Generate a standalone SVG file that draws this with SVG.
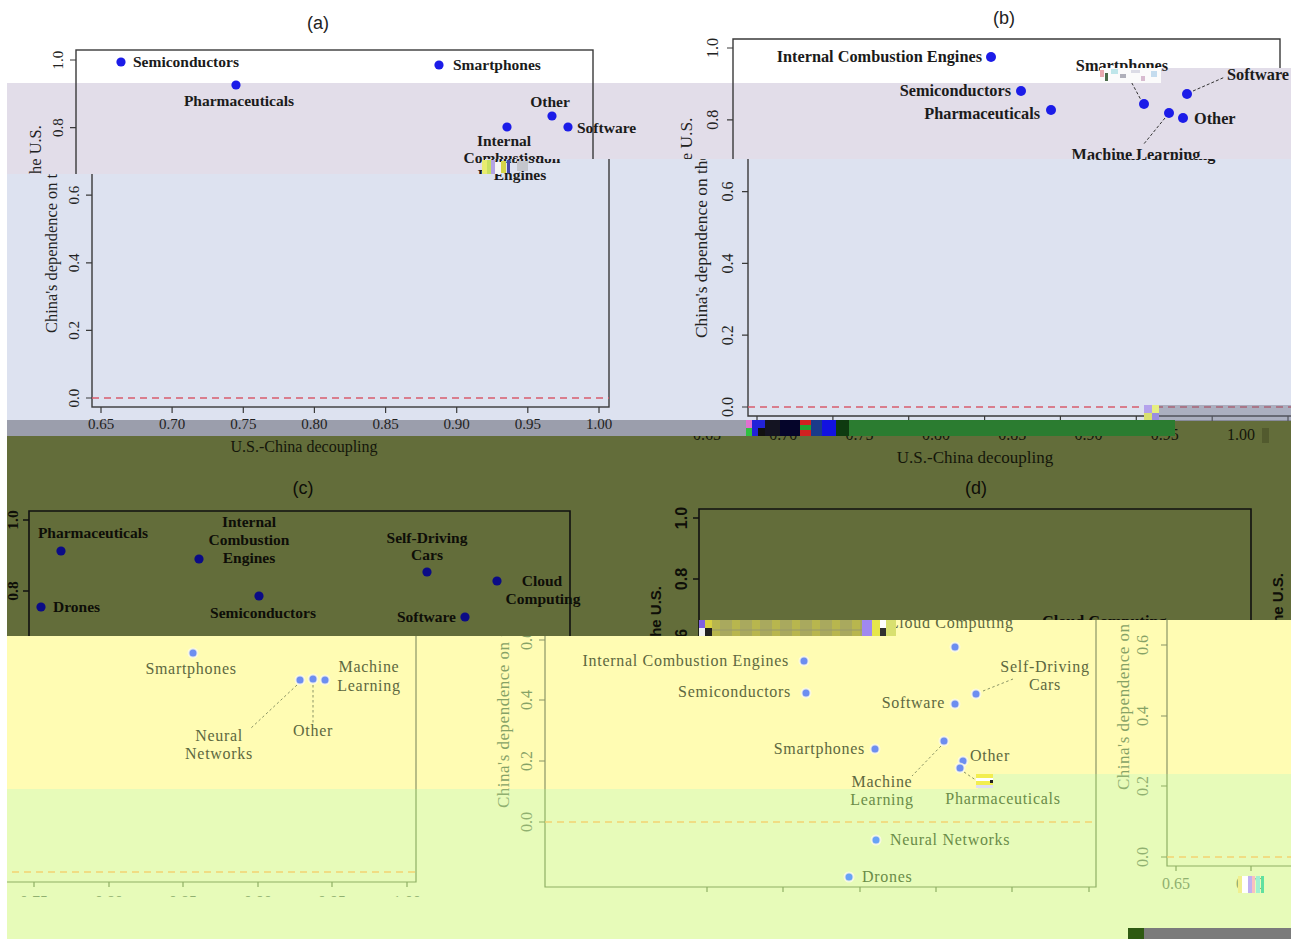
<svg xmlns="http://www.w3.org/2000/svg" width="1291" height="939" viewBox="0 0 1291 939">
<defs>
<style>
.ttl{font-family:"Liberation Sans",Arial,sans-serif;font-size:18px;fill:#222}
.la{font-family:"Liberation Serif","Times New Roman",serif;font-weight:bold;font-size:15.5px;fill:#1b1b1b}
.lb{font-family:"Liberation Serif","Times New Roman",serif;font-weight:bold;font-size:16.3px;fill:#1b1b1b}
.tka{font-family:"Liberation Serif","Times New Roman",serif;font-size:15px;fill:#222}
.tkb{font-family:"Liberation Serif","Times New Roman",serif;font-size:16px;fill:#222}
.axa{font-family:"Liberation Serif","Times New Roman",serif;font-size:16.4px;fill:#222}
.axb{font-family:"Liberation Serif","Times New Roman",serif;font-size:17.4px;fill:#222}
.rot{text-anchor:middle;dominant-baseline:central}
.mid{text-anchor:middle}
.end{text-anchor:end}
.fr{fill:none;stroke:#3a3a3a;stroke-width:1.4}
.tm{fill:none;stroke:#3a3a3a;stroke-width:1.2}
.dA{fill:#1c1ce8}
.red{fill:none;stroke:#d75c6c;stroke-width:1.6;stroke-dasharray:7 5}
.ldr{fill:none;stroke:#333;stroke-width:1;stroke-dasharray:3 2}
.oc{font-family:"Liberation Serif","Times New Roman",serif;font-weight:bold;font-size:15.5px;fill:#0e0e08}
.otk{font-family:"Liberation Serif","Times New Roman",serif;font-size:16px;fill:#14160a}
.osb{font-family:"Liberation Sans",Arial,sans-serif;font-weight:bold;font-size:15px;fill:#0e0e08}
.ottl{font-family:"Liberation Sans",Arial,sans-serif;font-size:18px;fill:#0e0e08}
.ofr{fill:none;stroke:#111;stroke-width:1.6}
.dC{fill:#0b0b86}
.yt{font-family:"Liberation Serif","Times New Roman",serif;font-size:16px;letter-spacing:0.7px;stroke:none}
.yk{font-family:"Liberation Serif","Times New Roman",serif;font-size:16px;stroke:none;fill:var(--ax,#8fa56c)}
.yax{font-family:"Liberation Serif","Times New Roman",serif;font-size:17px;letter-spacing:0.5px;stroke:none;fill:var(--ax,#8fa56c)}
.yfr{fill:none;stroke-width:1.2}
.yd{fill:currentColor;stroke:#fffde8;stroke-width:2;stroke-opacity:0.8}
.yzero{fill:none;stroke:#f3d472;stroke-width:1.6;stroke-dasharray:7 5}
.yld{fill:none;stroke-width:1;stroke-dasharray:2.5 2.5}
</style>
<clipPath id="cUp"><polygon points="0,0 1291,0 1291,159 485,159 485,174 0,174"/></clipPath>
<clipPath id="cLow"><polygon points="7,174 485,174 485,159 1291,159 1291,436 7,436"/></clipPath>
<clipPath id="cOl"><polygon points="7,436 1175,436 1175,421 1291,421 1291,620 896,620 896,636 7,636"/></clipPath>
<clipPath id="cYel"><polygon points="7,636 896,636 896,620 1291,620 1291,774 978,774 978,789 7,789"/></clipPath>
<clipPath id="cGrn"><polygon points="7,789 978,789 978,774 1291,774 1291,897 7,897"/></clipPath>
</defs>

<rect id="bg-white" width="1291" height="939" fill="#ffffff"/>
<polygon id="bg-lavender" points="7,83 1161,83 1161,68 1291,68 1291,159 485,159 485,174 7,174" fill="#e2dde9"/>
<polygon id="bg-blue" points="7,174 485,174 485,159 1291,159 1291,420 7,420" fill="#dde2f0"/>
<rect id="bg-grey" x="7" y="420" width="1284" height="16" fill="#9b9eac"/>

<g clip-path="url(#cUp)">
<g id="panel-a">
<text class="ttl mid" x="318" y="29">(a)</text>
<rect class="fr" x="76" y="50" width="517" height="357"/>
<path class="tm" d="M70 60H76M70 127.6H76M70 195.2H76M70 262.8H76M70 330.4H76M70 398H76M85 407V413M156.1 407V413M227.3 407V413M298.4 407V413M369.6 407V413M440.7 407V413M511.8 407V413M583 407V413"/>
<text class="tka rot" transform="translate(58 60) rotate(-90)">1.0</text>
<text class="tka rot" transform="translate(58 127.6) rotate(-90)">0.8</text>
<text class="tka rot" transform="translate(58 195.2) rotate(-90)">0.6</text>
<text class="tka rot" transform="translate(58 262.8) rotate(-90)">0.4</text>
<text class="tka rot" transform="translate(58 330.4) rotate(-90)">0.2</text>
<text class="tka rot" transform="translate(58 398) rotate(-90)">0.0</text>
<text class="axa" transform="translate(35 333) rotate(-90)" dominant-baseline="central">China's dependence on the U.S.</text>
<text class="tka mid" x="85" y="429">0.65</text>
<text class="tka mid" x="156.1" y="429">0.70</text>
<text class="tka mid" x="227.3" y="429">0.75</text>
<text class="tka mid" x="298.4" y="429">0.80</text>
<text class="tka mid" x="369.6" y="429">0.85</text>
<text class="tka mid" x="440.7" y="429">0.90</text>
<text class="tka mid" x="511.8" y="429">0.95</text>
<text class="tka mid" x="583" y="429">1.00</text>
<path class="red" d="M76 398H593"/>
<g id="a-semiconductors"><circle class="dA" cx="121" cy="62" r="4.6"/><text class="la" x="133" y="67">Semiconductors</text></g>
<g id="a-smartphones"><circle class="dA" cx="439" cy="65" r="4.6"/><text class="la" x="453" y="70">Smartphones</text></g>
<g id="a-pharmaceuticals"><circle class="dA" cx="236" cy="85" r="4.6"/><text class="la mid" x="239" y="106">Pharmaceuticals</text></g>
<g id="a-other"><circle class="dA" cx="552" cy="116" r="4.6"/><text class="la mid" x="550" y="107">Other</text></g>
<g id="a-software"><circle class="dA" cx="568" cy="127" r="4.6"/><text class="la" x="577" y="133">Software</text></g>
<g id="a-ice"><circle class="dA" cx="507" cy="127" r="4.6"/><text class="la mid" x="504" y="146"><tspan x="504">Internal</tspan><tspan x="504" dy="17">Combustion</tspan><tspan x="504" dy="17">Engines</tspan></text></g>
</g>
<g id="panel-b">
<text class="ttl mid" x="1004" y="24">(b)</text>
<path class="fr" d="M1290 416H733V39H1280V68"/>
<path class="tm" d="M727 48H733M727 119.8H733M727 191.6H733M727 263.4H733M727 335.2H733M727 407H733M742 416V421M817.9 416V421M893.7 416V421M969.6 416V421M1045.4 416V421M1121.3 416V421M1197.2 416V421M1273 416V421"/>
<text class="tkb rot" transform="translate(712 48) rotate(-90)">1.0</text>
<text class="tkb rot" transform="translate(712 119.8) rotate(-90)">0.8</text>
<text class="tkb rot" transform="translate(712 191.6) rotate(-90)">0.6</text>
<text class="tkb rot" transform="translate(712 263.4) rotate(-90)">0.4</text>
<text class="tkb rot" transform="translate(712 335.2) rotate(-90)">0.2</text>
<text class="tkb rot" transform="translate(712 407) rotate(-90)">0.0</text>
<text class="axb" transform="translate(686 338) rotate(-90)" dominant-baseline="central">China's dependence on the U.S.</text>
<path class="red" d="M733 407H1290"/>
<g id="b-connectors">
<path class="ldr" d="M1127 74L1141 100"/>
<path class="ldr" d="M1193 91L1225 77"/>
<path class="ldr" d="M1165 118L1143 145"/>
</g>
<g id="b-ice"><circle class="dA" cx="991" cy="57" r="5"/><text class="lb end" x="982" y="62">Internal Combustion Engines</text></g>
<g id="b-semiconductors"><circle class="dA" cx="1021" cy="91" r="5"/><text class="lb end" x="1011" y="96">Semiconductors</text></g>
<g id="b-pharmaceuticals"><circle class="dA" cx="1051" cy="110" r="5"/><text class="lb end" x="1040" y="119">Pharmaceuticals</text></g>
<g id="b-smartphones"><circle class="dA" cx="1144" cy="104" r="5"/><text class="lb mid" x="1122" y="71">Smartphones</text></g>
<g id="b-software"><circle class="dA" cx="1187" cy="94" r="5"/><text class="lb" x="1227" y="80">Software</text></g>
<g id="b-ml"><circle class="dA" cx="1169" cy="113" r="5"/><text class="lb mid" x="1136" y="160">Machine Learning</text></g>
<g id="b-other"><circle class="dA" cx="1183" cy="118" r="5"/><text class="lb" x="1194" y="124">Other</text></g>
</g>
</g>

<g id="lower-band-shift" clip-path="url(#cLow)">
<use href="#panel-a" x="16"/>
<use href="#panel-b" x="15"/>
</g>

<g id="glitch-top">
<rect x="1100" y="68" width="61" height="15" fill="#fbfbfb"/>
<rect x="1100" y="70" width="4" height="7" fill="#e8a8b0"/>
<rect x="1105" y="73" width="3" height="8" fill="#4a6a4a"/>
<rect x="1111" y="69" width="7" height="5" fill="#bfe6ea"/>
<rect x="1120" y="74" width="6" height="4" fill="#b0b0ba"/>
<rect x="1131" y="70" width="9" height="3" fill="#dcdce6"/>
<rect x="1141" y="76" width="4" height="5" fill="#d8bcd0"/>
<rect x="1151" y="71" width="6" height="6" fill="#c4dcee"/>
<rect x="482" y="160" width="5" height="14" fill="#e8ec70"/>
<rect x="487" y="160" width="4" height="14" fill="#c8e060"/>
<rect x="491" y="160" width="4" height="14" fill="#b4a4e4"/>
<rect x="495" y="162" width="6" height="12" fill="#f4f4f4"/>
<rect x="501" y="161" width="5" height="12" fill="#d4d448"/>
<rect x="507" y="160" width="3" height="13" fill="#4848a8"/>
<rect x="517" y="161" width="11" height="10" fill="#c4c6cc"/>
<rect x="1144" y="405" width="8" height="8" fill="#b4a2ec"/>
<rect x="1152" y="405" width="7" height="8" fill="#e6ee80"/>
<rect x="1144" y="413" width="8" height="8" fill="#d8e070"/>
<rect x="1152" y="413" width="7" height="8" fill="#9a8ee0"/>
<rect x="1159" y="405" width="132" height="16" fill="#6e7186" fill-opacity="0.45"/>
</g>

<g id="glitch-axis-strip">
<rect x="746" y="420" width="6" height="16" fill="#e070d0"/>
<rect x="746" y="428" width="6" height="8" fill="#30c040"/>
<rect x="752" y="420" width="13" height="16" fill="#2222d8"/>
<rect x="758" y="428" width="7" height="8" fill="#111"/>
<rect x="765" y="420" width="15" height="16" fill="#141422"/>
<rect x="780" y="420" width="20" height="16" fill="#05052a"/>
<rect x="800" y="420" width="11" height="5" fill="#d02020"/>
<rect x="800" y="425" width="11" height="5" fill="#20a030"/>
<rect x="800" y="430" width="11" height="6" fill="#d02020"/>
<rect x="811" y="420" width="11" height="16" fill="#1a3a8a"/>
<rect x="822" y="420" width="14" height="16" fill="#1212e0"/>
<rect x="836" y="420" width="13" height="16" fill="#0e3a10"/>
<rect x="849" y="420" width="326" height="16" fill="#2b7c30"/>
<rect x="1175" y="421" width="25" height="11" fill="#555a30"/>
<rect x="1177" y="422" width="5" height="4" fill="#e8e8b0"/>
<rect x="1184" y="424" width="4" height="4" fill="#ffffff"/>
<rect x="1190" y="422" width="5" height="5" fill="#d0d080"/>
<rect x="1180" y="428" width="6" height="3" fill="#b0b070"/>
</g>

<polygon id="bg-olive" points="7,436 1175,436 1175,421 1291,421 1291,620 896,620 896,636 7,636" fill="#636d3a"/>

<g clip-path="url(#cOl)">
<g id="olive-axis-labels">
<text class="otk mid" x="304" y="452">U.S.-China decoupling</text>
<text class="otk mid" x="707" y="439.5">0.65</text>
<text class="otk mid" x="783.3" y="439.5">0.70</text>
<text class="otk mid" x="859.6" y="439.5">0.75</text>
<text class="otk mid" x="935.9" y="439.5">0.80</text>
<text class="otk mid" x="1012.2" y="439.5">0.85</text>
<text class="otk mid" x="1088.5" y="439.5">0.90</text>
<text class="otk mid" x="1164.8" y="439.5">0.95</text>
<text class="otk mid" x="1241.1" y="439.5">1.00</text>
<text class="otk mid" x="975" y="463" style="font-size:17px">U.S.-China decoupling</text>
<rect x="1262" y="428" width="7" height="15" fill="#525a2e"/>
</g>
<g id="panel-c">
<text class="ottl mid" x="303" y="494">(c)</text>
<path class="ofr" d="M29 640V511H570V640"/>
<path class="ofr" d="M23 520H29M23 591H29"/>
<text class="oc rot" transform="translate(12 520) rotate(-90)">1.0</text>
<text class="oc rot" transform="translate(12 591) rotate(-90)">0.8</text>
<g id="c-pharmaceuticals"><circle class="dC" cx="61" cy="551" r="4.6"/><text class="oc mid" x="93" y="538">Pharmaceuticals</text></g>
<g id="c-ice"><circle class="dC" cx="199" cy="559" r="4.6"/><text class="oc mid" x="249" y="527"><tspan x="249">Internal</tspan><tspan x="249" dy="18">Combustion</tspan><tspan x="249" dy="18">Engines</tspan></text></g>
<g id="c-drones"><circle class="dC" cx="41" cy="607" r="4.6"/><text class="oc" x="53" y="612">Drones</text></g>
<g id="c-semiconductors"><circle class="dC" cx="259" cy="596" r="4.6"/><text class="oc mid" x="263" y="618">Semiconductors</text></g>
<g id="c-selfdriving"><circle class="dC" cx="427" cy="572" r="4.6"/><text class="oc mid" x="427" y="543"><tspan x="427">Self-Driving</tspan><tspan x="427" dy="17">Cars</tspan></text></g>
<g id="c-cloud"><circle class="dC" cx="497" cy="581" r="4.6"/><text class="oc mid" x="542" y="586"><tspan x="542">Cloud</tspan><tspan x="543" dy="18">Computing</tspan></text></g>
<g id="c-software"><circle class="dC" cx="465" cy="617" r="4.6"/><text class="oc end" x="456" y="622">Software</text></g>
</g>
<g id="panel-d">
<text class="ottl mid" x="976" y="494">(d)</text>
<path class="ofr" d="M699 640V509H1251V640"/>
<path class="ofr" d="M693 518H699M693 579H699M693 640H699"/>
<text class="osb rot" transform="translate(681 518) rotate(-90)" style="font-size:16px">1.0</text>
<text class="osb rot" transform="translate(681 579) rotate(-90)" style="font-size:16px">0.8</text>
<text class="osb rot" transform="translate(681 640) rotate(-90)" style="font-size:16px">0.6</text>
<text class="osb end" transform="translate(655 586) rotate(-90)" dominant-baseline="central">China's dependence on the U.S.</text>
<text class="osb end" transform="translate(1277 573) rotate(-90)" dominant-baseline="central">China's dependence on the U.S.</text>
<g id="d-cloud-top"><text class="oc" x="1042" y="627" style="font-size:16.2px">Cloud Computing</text></g>
</g>
</g>

<polygon id="bg-yellow" points="7,636 896,636 896,620 1291,620 1291,774 978,774 978,789 7,789" fill="#fffcb3"/>
<polygon id="bg-green" points="7,789 978,789 978,774 1291,774 1291,939 7,939" fill="#e7fbb9"/>

<g clip-path="url(#cYel)">
<g fill="#5d6840" stroke="#8a9466" color="#6d8ef0" style="--ax:#86a266">
<g id="panel-lower">
<g id="lower-c">
<path class="yfr" d="M416 600V882H0"/>
<path class="yfr" d="M34 882V887M109 882V887M183 882V887M258 882V887M332 882V887M407 882V887"/>
<text class="yk mid" x="34" y="907">0.75</text>
<text class="yk mid" x="109" y="907">0.80</text>
<text class="yk mid" x="183" y="907">0.85</text>
<text class="yk mid" x="258" y="907">0.90</text>
<text class="yk mid" x="332" y="907">0.95</text>
<text class="yk mid" x="407" y="907">1.00</text>
<path class="yzero" d="M0 872H416"/>
<g id="lc-connectors">
<path class="yld" d="M297 685L250 729"/>
<path class="yld" d="M313 685V724"/>
</g>
<g id="lc-smartphones"><circle class="yd" cx="193" cy="653" r="4.5"/><text class="yt mid" x="191" y="674">Smartphones</text></g>
<g id="lc-nn"><circle class="yd" cx="300" cy="680" r="4.5"/><text class="yt mid" x="219" y="741"><tspan x="219">Neural</tspan><tspan x="219" dy="18">Networks</tspan></text></g>
<g id="lc-other"><circle class="yd" cx="313" cy="679" r="4.5"/><text class="yt mid" x="313" y="736">Other</text></g>
<g id="lc-ml"><circle class="yd" cx="325" cy="680" r="4.5"/><text class="yt mid" x="369" y="672"><tspan x="369">Machine</tspan><tspan x="369" dy="19">Learning</tspan></text></g>
</g>
<g id="lower-d">
<path class="yfr" d="M545 600V887H1096V600"/>
<path class="yfr" d="M707 887V892M783 887V892M860 887V892M936 887V892M1012 887V892M1089 887V892M539 640H545M539 700H545M539 761H545M539 822H545"/>
<text class="yk rot" transform="translate(526 640) rotate(-90)">0.6</text>
<text class="yk rot" transform="translate(526 700) rotate(-90)">0.4</text>
<text class="yk rot" transform="translate(526 761) rotate(-90)">0.2</text>
<text class="yk rot" transform="translate(526 822) rotate(-90)">0.0</text>
<text class="yax" transform="translate(503 808) rotate(-90)" dominant-baseline="central">China's dependence on the U.S.</text>
<path class="yzero" d="M545 822H1096"/>
<g id="ld-connectors">
<path class="yld" d="M983 691L1013 679"/>
<path class="yld" d="M941 746L912 776"/>
<path class="yld" d="M964 772L980 783"/>
</g>
<g id="ld-cloud"><circle class="yd" cx="955" cy="647" r="4.5"/><text class="yt" x="888" y="628">Cloud Computing</text></g>
<g id="ld-ice"><circle class="yd" cx="804" cy="661" r="4.5"/><text class="yt end" x="789" y="666">Internal Combustion Engines</text></g>
<g id="ld-semiconductors"><circle class="yd" cx="806" cy="693" r="4.5"/><text class="yt end" x="791" y="697">Semiconductors</text></g>
<g id="ld-software"><circle class="yd" cx="955" cy="704" r="4.5"/><text class="yt end" x="945" y="708">Software</text></g>
<g id="ld-selfdriving"><circle class="yd" cx="976" cy="694" r="4.5"/><text class="yt mid" x="1045" y="672"><tspan x="1045">Self-Driving</tspan><tspan x="1045" dy="18">Cars</tspan></text></g>
<g id="ld-smartphones"><circle class="yd" cx="875" cy="749" r="4.5"/><text class="yt end" x="865" y="754">Smartphones</text></g>
<g id="ld-ml"><circle class="yd" cx="944" cy="741" r="4.5"/><text class="yt mid" x="882" y="787"><tspan x="882">Machine</tspan><tspan x="882" dy="18">Learning</tspan></text></g>
<g id="ld-other"><circle class="yd" cx="963" cy="761" r="4.5"/><text class="yt" x="970" y="761">Other</text></g>
<g id="ld-pharmaceuticals"><circle class="yd" cx="960" cy="768" r="4.5"/><text class="yt mid" x="1003" y="804">Pharmaceuticals</text></g>
<g id="ld-nn"><circle class="yd" cx="876" cy="840" r="4.5"/><text class="yt" x="890" y="845">Neural Networks</text></g>
<g id="ld-drones"><circle class="yd" cx="849" cy="877" r="4.5"/><text class="yt" x="862" y="882">Drones</text></g>
</g>
<g id="lower-wrap">
<path class="yfr" d="M1167 600V866H1291"/>
<path class="yfr" d="M1176 866V871M1251 866V871M1161 645H1167M1161 716H1167M1161 786H1167M1161 857H1167"/>
<text class="yk rot" transform="translate(1142 645) rotate(-90)">0.6</text>
<text class="yk rot" transform="translate(1142 716) rotate(-90)">0.4</text>
<text class="yk rot" transform="translate(1142 786) rotate(-90)">0.2</text>
<text class="yk rot" transform="translate(1142 857) rotate(-90)">0.0</text>
<text class="yax" transform="translate(1123 790) rotate(-90)" dominant-baseline="central">China's dependence on the U.S.</text>
<path class="yzero" d="M1167 857H1291"/>
<text class="yk mid" x="1176" y="889">0.65</text>
<text class="yk mid" x="1250" y="889">0.70</text>
</g>
</g>
</g>
</g>

<g clip-path="url(#cGrn)">
<use href="#panel-lower" fill="#6a8c48" stroke="#8fb064" color="#67a2f6" style="--ax:#90b070"/>
</g>

<g id="glitch-lower">
<rect x="699" y="620" width="197" height="16" fill="#a9a95e"/>
<rect x="712" y="620" width="8" height="16" fill="#b8b64e"/>
<rect x="732" y="620" width="8" height="16" fill="#b8b64e"/>
<rect x="752" y="620" width="8" height="16" fill="#b8b64e"/>
<rect x="772" y="620" width="8" height="16" fill="#b8b64e"/>
<rect x="792" y="620" width="8" height="16" fill="#b8b64e"/>
<rect x="812" y="620" width="8" height="16" fill="#b8b64e"/>
<rect x="832" y="620" width="8" height="16" fill="#b8b64e"/>
<rect x="852" y="620" width="8" height="16" fill="#b8b64e"/>
<rect x="712" y="629" width="150" height="2" fill="#9c9c68" fill-opacity="0.6"/>
<rect x="699" y="620" width="6" height="8" fill="#8060e0"/>
<rect x="705" y="620" width="7" height="8" fill="#d8d040"/>
<rect x="699" y="628" width="6" height="8" fill="#f0f0f0"/>
<rect x="705" y="628" width="7" height="8" fill="#202020"/>
<rect x="862" y="620" width="10" height="16" fill="#a088f0"/>
<rect x="872" y="620" width="8" height="16" fill="#e6e64a"/>
<rect x="880" y="620" width="6" height="8" fill="#ffffff"/>
<rect x="880" y="628" width="6" height="8" fill="#303030"/>
<rect x="886" y="620" width="10" height="16" fill="#d8e070"/>
<rect x="976" y="774" width="17" height="4" fill="#f2ee50"/>
<rect x="976" y="778" width="17" height="3" fill="#ffffff"/>
<rect x="976" y="781" width="17" height="4" fill="#f2ee50"/>
<rect x="976" y="785" width="17" height="3" fill="#e0e0f0"/>
<rect x="990" y="780" width="3" height="3" fill="#222"/>
<rect x="1238" y="876" width="4" height="17" fill="#f0f090"/>
<rect x="1242" y="876" width="6" height="17" fill="#ffffff"/>
<rect x="1248" y="876" width="4" height="17" fill="#c0b0f0"/>
<rect x="1252" y="876" width="3" height="17" fill="#f8c0c0"/>
<rect x="1256" y="876" width="4" height="17" fill="#a0f0d0"/>
<rect x="1261" y="876" width="3" height="17" fill="#60e0a0"/>
<rect x="1128" y="928" width="16" height="11" fill="#2e5a12"/>
<rect x="1144" y="928" width="147" height="11" fill="#7b7b7b"/>
</g>
</svg>
